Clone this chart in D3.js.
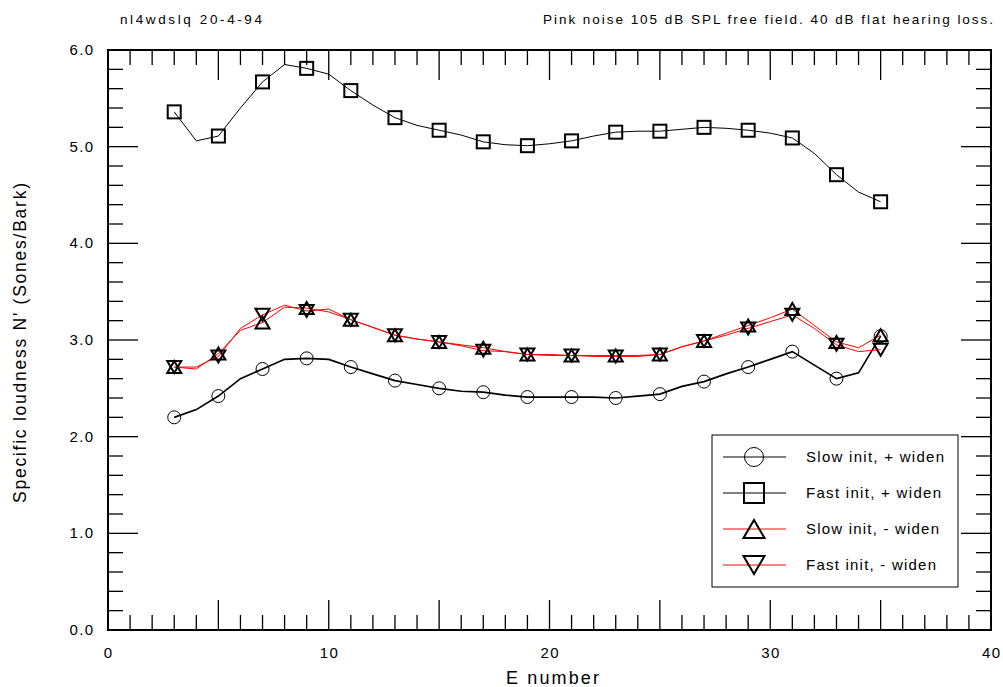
<!DOCTYPE html>
<html>
<head>
<meta charset="utf-8">
<script src="https://cdn.jsdelivr.net/npm/d3@7"></script>
<style>
  html, body { margin: 0; padding: 0; background: #fff; }
  text { font-family: "Liberation Sans", Arial, sans-serif; fill: #000; }
</style>
</head>
<body>
<svg id="chart" width="1003" height="687"></svg>
<script>
// ---------- data ----------
const eNumbers = [3,4,5,6,7,8,9,10,11,12,13,14,15,16,17,18,19,20,21,22,23,24,25,26,27,28,29,30,31,32,33,34,35];
const slowPlusWiden = [2.20,2.28,2.42,2.60,2.70,2.80,2.81,2.80,2.72,2.65,2.58,2.54,2.50,2.47,2.46,2.43,2.41,2.41,2.41,2.41,2.40,2.42,2.44,2.52,2.57,2.65,2.72,2.80,2.88,2.74,2.60,2.66,3.04];
const fastPlusWiden = [5.36,5.06,5.11,5.40,5.67,5.85,5.81,5.75,5.58,5.43,5.30,5.22,5.17,5.12,5.05,5.02,5.01,5.03,5.06,5.11,5.15,5.16,5.16,5.18,5.20,5.19,5.17,5.14,5.09,4.93,4.71,4.53,4.43];
const slowMinusWiden = [2.72,2.70,2.86,3.10,3.18,3.34,3.33,3.29,3.21,3.13,3.05,3.01,2.98,2.95,2.92,2.88,2.85,2.85,2.84,2.84,2.84,2.84,2.85,2.93,2.99,3.07,3.15,3.23,3.32,3.15,2.98,2.92,3.05];
const fastMinusWiden = [2.72,2.72,2.83,3.12,3.26,3.36,3.30,3.32,3.21,3.13,3.05,3.01,2.98,2.94,2.89,2.88,2.85,2.84,2.84,2.83,2.83,2.83,2.85,2.93,2.99,3.05,3.12,3.19,3.26,3.12,2.95,2.88,2.90];
const seriesNames = ["Slow init, + widen","Fast init, + widen","Slow init, - widen","Fast init, - widen"];
const xTickLabels = [0,10,20,30,40];
const yTickLabels = [0,1,2,3,4,5,6];
const titleLeft = "nl4wdslq 20-4-94";
const titleRight = "Pink noise 105 dB SPL free field. 40 dB flat hearing loss.";
const xTitle = "E number";
const yTitle = "Specific loudness N' (Sones/Bark)";

// ---------- layout ----------
const svg = d3.select("#chart");
const L = 108, R = 991, T = 50, B = 630;
const x = d3.scaleLinear().domain([0,40]).range([L,R]);
const y = d3.scaleLinear().domain([0,6]).range([B,T]);

// ticks (inside on all four sides)
const g = svg.append("g");
const minorX = d3.range(0,41,1), minorY = d3.range(0,6.0001,0.2).map(v=>+v.toFixed(1));
function isMajorX(v){ return v % 5 === 0; }
function isMajorY(v){ return Math.abs(v - Math.round(v)) < 1e-6; }

minorX.forEach(v => {
  const len = isMajorX(v) ? 30 : 15;
  g.append("line").attr("x1",x(v)).attr("x2",x(v)).attr("y1",B).attr("y2",B-len).attr("stroke","#000").attr("stroke-width",1.3);
  g.append("line").attr("x1",x(v)).attr("x2",x(v)).attr("y1",T).attr("y2",T+len).attr("stroke","#000").attr("stroke-width",1.3);
});
minorY.forEach(v => {
  const len = isMajorY(v) ? 30 : 15;
  g.append("line").attr("x1",L).attr("x2",L+len).attr("y1",y(v)).attr("y2",y(v)).attr("stroke","#000").attr("stroke-width",1.3);
  g.append("line").attr("x1",R).attr("x2",R-len).attr("y1",y(v)).attr("y2",y(v)).attr("stroke","#000").attr("stroke-width",1.3);
});
// frame
g.append("rect").attr("x",L).attr("y",T).attr("width",R-L).attr("height",B-T).attr("fill","none").attr("stroke","#000").attr("stroke-width",2);

// tick labels
svg.append("g").selectAll("text").data(xTickLabels).join("text")
  .attr("x", d => x(d) + 0.7).attr("y", 658).attr("text-anchor","middle").attr("font-size",15).attr("letter-spacing",1.4).text(d => d);
svg.append("g").selectAll("text").data(yTickLabels).join("text")
  .attr("x", 94.5).attr("y", d => y(d)+5).attr("text-anchor","end").attr("font-size",15).attr("letter-spacing",1.4).text(d => d.toFixed(1));

// titles
svg.append("text").attr("x",120).attr("y",24).attr("font-size",13.5)
  .attr("textLength",142).attr("lengthAdjust","spacing").text(titleLeft);
svg.append("text").attr("x",543).attr("y",24).attr("font-size",13.5)
  .attr("textLength",450).attr("lengthAdjust","spacing").text(titleRight);
svg.append("text").attr("x",506).attr("y",684).attr("font-size",18)
  .attr("textLength",93).attr("lengthAdjust","spacing").text(xTitle);
svg.append("text").attr("transform","translate(26,503) rotate(-90)").attr("font-size",17.5)
  .attr("textLength",320).attr("lengthAdjust","spacing").text(yTitle);

// ---------- series ----------
const line = d3.line().x((d,i) => x(eNumbers[i])).y(d => y(d));
const series = [
  {vals: slowPlusWiden, color:"#000", lw:1.7, marker:"circle"},
  {vals: fastPlusWiden, color:"#000", lw:1, marker:"square"},
  {vals: slowMinusWiden, color:"#ff0000", lw:1, marker:"up"},
  {vals: fastMinusWiden, color:"#ff0000", lw:1, marker:"down"}
];
const legendTextLen = [138, 135, 133, 130];

// triangles centred on their bounding box
function markerPath(type, w, h){
  if (type === "up") return `M0,${-h/2}L${w/2},${h/2}L${-w/2},${h/2}Z`;
  return `M0,${h/2}L${w/2},${-h/2}L${-w/2},${-h/2}Z`;
}
function drawMarker(sel, type, cx, cy, big){
  if (type === "circle") {
    sel.append("circle").attr("cx",cx).attr("cy",cy).attr("r", big ? 9.5 : 6.5).attr("fill","none").attr("stroke","#000").attr("stroke-width",1);
  } else if (type === "square") {
    const s = big ? 20 : 13;
    sel.append("rect").attr("x",cx-s/2).attr("y",cy-s/2).attr("width",s).attr("height",s).attr("fill","none").attr("stroke","#000").attr("stroke-width",2);
  } else {
    const w = big ? 21 : 14, h = big ? 18 : 12;
    sel.append("path").attr("d",markerPath(type,w,h)).attr("transform",`translate(${cx},${cy})`).attr("fill","none").attr("stroke","#000").attr("stroke-width",2).attr("stroke-linejoin","miter");
  }
}

const sg = svg.append("g");
series.forEach(s => {
  sg.append("path").attr("d", line(s.vals)).attr("fill","none").attr("stroke",s.color).attr("stroke-width",s.lw);
});
series.forEach(s => {
  const mg = sg.append("g");
  s.vals.forEach((v,i) => {
    if (eNumbers[i] % 2 === 1) drawMarker(mg, s.marker, x(eNumbers[i]), y(v), false);
  });
});

// ---------- legend ----------
const lg = svg.append("g");
lg.append("rect").attr("x",712).attr("y",435).attr("width",246).attr("height",152).attr("fill","#fff").attr("stroke","#000").attr("stroke-width",1);
series.forEach((s,i) => {
  const cy = 457 + i*36;
  lg.append("line").attr("x1",723).attr("x2",786).attr("y1",cy).attr("y2",cy)
    .attr("stroke", s.color === "#000" ? "#000" : "#ff5a5a").attr("stroke-width", s.color === "#000" ? 1 : 1.5);
  drawMarker(lg, s.marker, 754, cy, true);
  lg.append("text").attr("x",806).attr("y",cy+5).attr("font-size",15)
    .attr("textLength",legendTextLen[i]).attr("lengthAdjust","spacing").text(seriesNames[i]);
});
</script>
</body>
</html>
